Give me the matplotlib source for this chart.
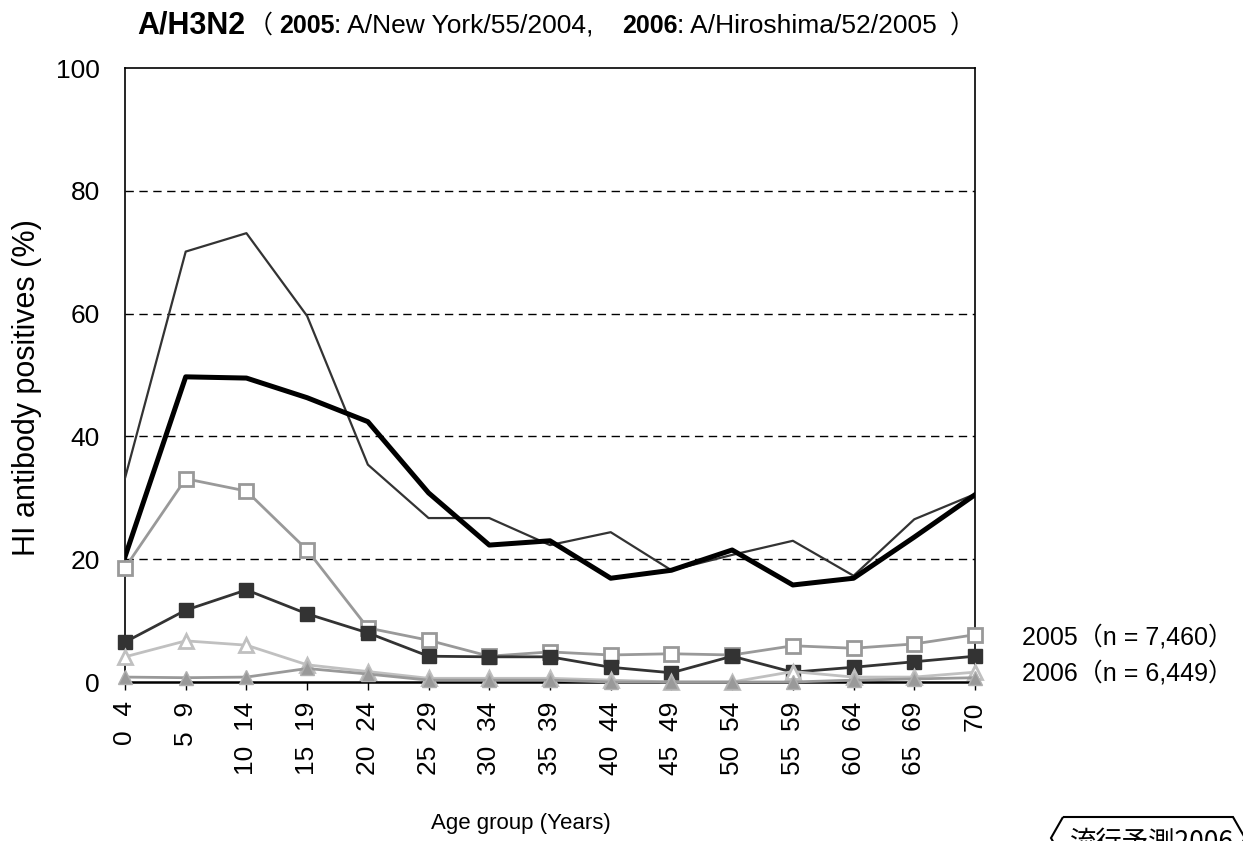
import numpy as np
import matplotlib
matplotlib.use("Agg")
import matplotlib.pyplot as plt
from matplotlib.patches import Polygon

plt.rcParams['font.family'] = ['Liberation Sans', 'Noto Sans CJK JP', 'DejaVu Sans']

# 年齢群
age_labels = ["0  4", "5  9", "10  14", "15  19", "20  24", "25  29", "30  34", "35  39",
              "40  44", "45  49", "50  54", "55  59", "60  64", "65  69", "70"]

# HI抗体保有率 (%)
thin_2005 = [33.2, 70.1, 73.1, 59.6, 35.4, 26.7, 26.7, 22.3, 24.4, 18.2, 20.7, 23.0, 17.3, 26.5, 30.6]
thick_2006 = [20.4, 49.7, 49.5, 46.3, 42.4, 30.8, 22.3, 23.0, 16.9, 18.2, 21.5, 15.8, 16.9, 23.6, 30.5]
sq_2005 = [18.6, 33.1, 31.1, 21.5, 8.8, 6.8, 4.2, 4.9, 4.4, 4.6, 4.4, 5.9, 5.5, 6.2, 7.7]
sq_2006 = [6.5, 11.7, 15.0, 11.1, 8.0, 4.2, 4.1, 4.1, 2.4, 1.5, 4.2, 1.6, 2.4, 3.3, 4.2]
tri_2005 = [4.1, 6.7, 6.0, 2.8, 1.7, 0.6, 0.6, 0.6, 0.3, 0.0, 0.0, 1.7, 0.8, 0.8, 1.6]
tri_2006 = [0.8, 0.7, 0.8, 2.2, 1.3, 0.3, 0.3, 0.3, 0.0, 0.0, 0.0, 0.0, 0.3, 0.5, 0.7]

W, H = 1243, 841
fig = plt.figure(figsize=(W / 100, H / 100), dpi=100)
ax = fig.add_axes([125 / W, 1 - 682 / H, (975 - 125) / W, (682 - 68) / H])

x = np.arange(len(age_labels))

# グリッド（破線）
for yv in [20, 40, 60, 80]:
    ax.axhline(yv, color='black', lw=1, ls=(0, (6, 4)), zorder=1)

ax.plot(x, sq_2005, color='#999999', lw=2, marker='s', ms=10, mfc='white',
        mec='#999999', mew=2, clip_on=False, zorder=3)
ax.plot(x, sq_2006, color='#333333', lw=2, marker='s', ms=10, mfc='#333333',
        mec='#333333', clip_on=False, zorder=4)
ax.plot(x, tri_2005, color='#c0c0c0', lw=2, marker='^', ms=10, mfc='white',
        mec='#c0c0c0', mew=2, clip_on=False, zorder=5)
ax.plot(x, tri_2006, color='#999999', lw=2, marker='^', ms=10, mfc='#999999',
        mec='#b0b0b0', clip_on=False, zorder=6)
ax.plot(x, thin_2005, color='#333333', lw=1.6, zorder=7)
ax.plot(x, thick_2006, color='black', lw=3.6, zorder=8)

ax.set_xlim(0, 14)
ax.set_ylim(0, 100)
ax.set_yticks([0, 20, 40, 60, 80, 100])
ax.set_xticks(x)
ax.set_xticklabels(age_labels, rotation=90, ha='center', va='top')
ax.tick_params(axis='y', length=0, pad=18, labelsize=19)
ax.tick_params(axis='x', length=6, width=1, direction='out', pad=8, labelsize=19)
for s in ax.spines.values():
    s.set_color('black')
    s.set_linewidth(1.2)
ax.spines['bottom'].set_linewidth(1.8)

# 軸ラベル
fig.text(27 / W, 1 - 388 / H, "HI antibody positives (%)", rotation=90,
         ha='center', va='center', fontsize=22)
fig.text(521 / W, 1 - 823 / H, "Age group (Years)", ha='center', va='center', fontsize=16)

# タイトル
ty = 1 - 33 / H
fig.text(137 / W, ty, "A/H3N2", fontsize=22, fontweight='bold', va='baseline')
fig.text(248 / W, ty, "（", fontsize=18, va='baseline')
fig.text(279 / W, ty, "2005", fontsize=18, fontweight='bold', va='baseline')
fig.text(334 / W, ty, ": A/New York/55/2004,", fontsize=19, va='baseline')
fig.text(622 / W, ty, "2006", fontsize=18, fontweight='bold', va='baseline')
fig.text(677 / W, ty, ": A/Hiroshima/52/2005", fontsize=19, va='baseline')
fig.text(950 / W, ty, "）", fontsize=18, va='baseline')

# 凡例テキスト
fig.text(1022 / W, 1 - 637 / H, "2005（n = 7,460）", fontsize=18, va='center')
fig.text(1022 / W, 1 - 673 / H, "2006（n = 6,449）", fontsize=18, va='center')

# 右下の枠
pts = [(1063, 817), (1233, 817), (1245, 838), (1233, 859), (1063, 859), (1051, 838)]
poly = Polygon([(px / W, 1 - py / H) for px, py in pts], closed=True, fill=False,
               edgecolor='black', lw=1.5, transform=fig.transFigure)
fig.add_artist(poly)
fig.text(1070 / W, 1 - 850 / H, "流行予測2006", fontsize=19, style='italic',
         va='baseline', family=['Noto Sans CJK JP', 'DejaVu Sans'])

fig.savefig("out.png", dpi=100)
